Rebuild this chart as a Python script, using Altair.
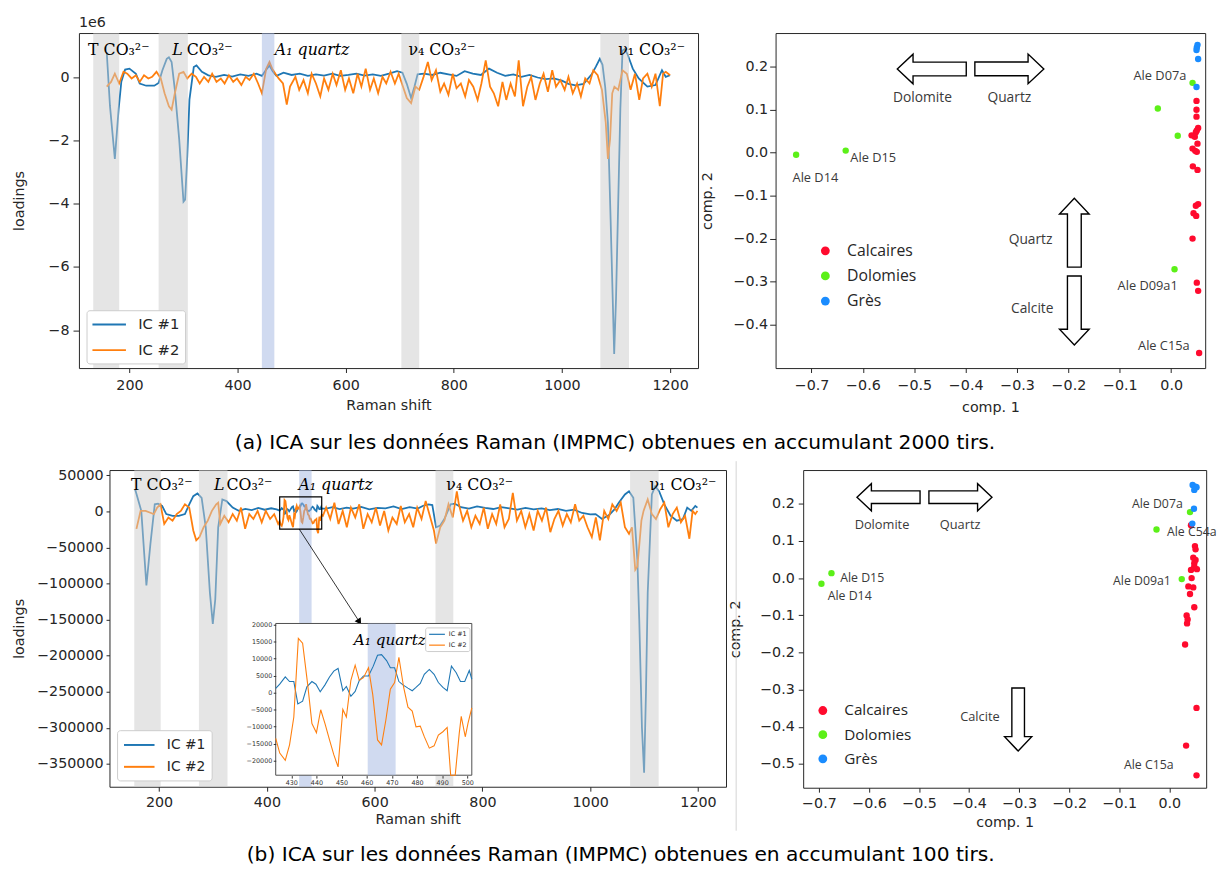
import altair as alt
import pandas as pd

BLUE, ORANGE = "#1f77b4", "#ff7f0e"
INK = "#262626"
SANS = "DejaVu Sans"
SERIF = "DejaVu Serif"
CALI = "Open Sans"

# ============ (a) left : ICA loadings, 2000 shots (unit 1e6) ============
a_ic1 = [(158, 0.80), (164, -0.9), (173, -2.58), (180, -1.0), (185, -0.13), (192, 0.25), (200, 0.28),
         (212, 0.12), (219, -0.19), (231, -0.26), (246, -0.26), (254, -0.17), (261, 0.23), (269, 0.59),
         (273, 0.64), (278, 0.49), (284, -0.39), (292, -1.95), (300, -3.93), (303, -3.87), (307, -2.47),
         (311, -0.7), (319, 0.33), (324, 0.38), (334, 0.18), (346, 0.07), (360, 0.02), (375, 0.08),
         (390, 0.03), (405, 0.1), (420, 0.05), (435, 0.12), (445, 0.05), (453, 0.25), (459, 0.38),
         (465, 0.2), (472, 0.05), (485, 0.15), (500, 0.08), (515, 0.12), (530, 0.05), (545, 0.1),
         (560, 0.06), (575, 0.12), (590, 0.05), (605, 0.08), (620, 0.12), (635, 0.06), (650, 0.1),
         (665, 0.05), (680, 0.12), (695, 0.2), (705, 0.15), (713, -0.2), (721, -0.65), (727, -0.3),
         (733, 0.1), (745, 0.12), (760, 0.08), (775, 0.15), (790, 0.1), (805, 0.05), (820, 0.2),
         (835, 0.12), (850, 0.08), (865, 0.28), (880, 0.15), (895, 0.05), (910, 0.1), (925, 0.02),
         (940, 0.08), (955, 0.0), (970, -0.05), (985, -0.03), (1000, -0.1), (1012, -0.2), (1025, -0.25),
         (1040, -0.2), (1055, 0.1), (1063, 0.35), (1070, 0.59), (1075, 0.4), (1080, -0.3), (1085, -1.43),
         (1090, -4.5), (1096.6, -8.75), (1100, -7.0), (1104, -4.0), (1108, -1.0), (1112, 0.85),
         (1116, 0.9), (1121, 0.75), (1131, 0.28), (1142, -0.03), (1158, -0.29), (1173, -0.24),
         (1185, 0.23), (1192, 0.02), (1200, 0.07)]
a_ic2 = [(158, -0.29), (166, -0.14), (173, 0.12), (181, -0.19), (189, 0.18), (196, 0.12), (204, -0.03),
         (212, 0.07), (219, -0.14), (227, 0.07), (235, -0.03), (242, 0.02), (250, 0.18), (258, -0.03),
         (265, -0.5), (273, -0.91), (278, -1.02), (284, -0.5), (292, 0.12), (300, 0.18), (307, -0.03),
         (315, 0.12), (323, 0.02), (330, -0.19), (338, 0.02), (346, -0.14), (353, 0.12), (361, -0.14),
         (369, -0.03), (376, -0.19), (384, 0.07), (392, -0.14), (399, -0.03), (407, -0.24), (415, 0.02),
         (422, -0.08), (430, 0.12), (438, -0.19), (445, -0.5), (453, 0.28), (459, 0.49), (464, 0.28),
         (470, 0.12), (476, -0.03), (484, -0.19), (491, -0.86), (497, -0.29), (507, 0.02), (514, -0.39),
         (522, -0.08), (530, -0.5), (537, 0.12), (545, -0.19), (553, -0.6), (560, -0.03), (568, -0.39),
         (576, 0.12), (583, -0.24), (591, 0.23), (599, -0.39), (606, -0.03), (614, -0.5), (622, 0.12),
         (629, -0.29), (637, 0.28), (645, -0.39), (652, -0.03), (660, -0.5), (668, 0.02), (675, -0.19),
         (683, 0.18), (691, -0.19), (698, 0.12), (706, -0.29), (713, -0.65), (721, -0.81), (729, -0.29),
         (736, -0.39), (744, 0.02), (752, 0.49), (759, -0.08), (767, 0.23), (775, -0.45), (782, -0.19),
         (790, -0.55), (798, 0.12), (805, -0.34), (813, -0.19), (821, -0.6), (828, -0.08), (836, -0.29),
         (844, -0.71), (851, -0.19), (859, 0.54), (867, -0.29), (874, -0.5), (882, -0.91), (890, -0.14),
         (897, -0.71), (905, -0.19), (913, -0.6), (920, 0.54), (928, -0.91), (936, -0.29), (943, 0.02),
         (951, -0.71), (959, -0.19), (966, 0.12), (974, -0.45), (982, 0.23), (989, -0.29), (997, -0.08),
         (1005, -0.39), (1012, 0.02), (1020, -0.5), (1028, -0.19), (1035, -0.6), (1043, -0.03),
         (1051, -0.19), (1058, 0.23), (1066, 0.07), (1074, -0.39), (1081, -1.43), (1085, -2.58),
         (1089, -1.95), (1093, -0.5), (1097, -0.29), (1104, -0.39), (1112, 0.23), (1120, 0.12),
         (1127, -0.39), (1135, 0.12), (1143, -0.71), (1150, -0.03), (1158, 0.12), (1166, -0.29),
         (1173, 0.12), (1181, -0.91), (1187, 0.12), (1192, 0.18), (1200, 0.07)]
a_band_lo = [133, 254, 445, 703, 1071]
a_band_hi = [181, 308, 468, 736, 1124]
a_band_kind = ["gray", "gray", "quartz", "gray", "gray"]
a_lab_up = ["T CO₃²⁻", "CO₃²⁻", "ν₄ CO₃²⁻", "ν₁ CO₃²⁻"]
a_lab_up_x = [123.5, 306, 716, 1104]
a_lab_it = ["L", "A₁ quartz"]
a_lab_it_x = [279, 469]
a_lab_y = 0.86

# ============ (a) right : scatter comp.1 / comp.2 ============
a_calc_x = [0.0493, 0.0493, 0.0493, 0.0525, 0.0499, 0.048, 0.0397, 0.046, 0.0512, 0.0416, 0.0468,
            0.0499, 0.0422, 0.0512, 0.0525, 0.048, 0.0435, 0.0487, 0.0416, 0.0499, 0.0525, 0.0544]
a_calc_y = [0.1206, 0.1, 0.0839, 0.0578, 0.0518, 0.0479, 0.0404, 0.0372, 0.0211, 0.0096, 0.0044,
            0.0021, -0.0317, -0.04, -0.1195, -0.1234, -0.1408, -0.147, -0.1998, -0.3023, -0.3213, -0.4658]
a_dolo_x = [0.0416, -0.026, 0.0128, -0.730, -0.6335, 0.0065]
a_dolo_y = [0.1626, 0.103, 0.0394, -0.0048, 0.005, -0.271]
a_gres_x = [0.0513, 0.0499, 0.0493, 0.0525, 0.0493]
a_gres_y = [0.251, 0.245, 0.239, 0.218, 0.153]
a_arrow_x = [-0.466, -0.315, -0.1885, -0.1885]
a_arrow_y = [0.1947, 0.195, -0.186, -0.367]
a_arrow_angle = [180, 0, 270, 90]
a_txt = ["Dolomite", "Quartz", "Quartz", "Calcite", "Ale D07a", "Ale D15", "Ale D14", "Ale D09a1", "Ale C15a"]
a_txt_x = [-0.484, -0.315, -0.231, -0.229, 0.0296, -0.6245, -0.737, 0.0128, 0.036]
a_txt_y = [0.127, 0.127, -0.2037, -0.3626, 0.178, -0.0117, -0.058, -0.31, -0.45]
a_txt_align = ["center", "center", "right", "right", "right", "left", "left", "right", "right"]
a_txt_size = [14, 14, 14, 14, 13, 13, 13, 13, 13]

# ============ (b) left : ICA loadings, 100 shots ============
b_ic1 = [(155.7, 30400), (167, 900), (176.5, -102600), (184, -44500), (192, 10000), (198, 10900),
         (205.7, 7700), (213.4, -3600), (225, -5900), (236.5, -5900), (248, -3600), (256, 10000),
         (263.5, 21300), (271.2, 25000), (279, 19000), (286.6, -21800), (294.3, -112600), (299.7, -155800),
         (304.3, -121700), (309.7, -21800), (317.4, 16800), (325, 14500), (336.6, 5400), (348, 900),
         (360, 3500), (372, 2000), (384, 5000), (396, 2500), (408, 4500), (418, 3000),
         (510, 4000), (522, 6000), (535, 3500), (548, 5500), (560, 4000), (575, 6500), (590, 3000),
         (605, 5000), (620, 4500), (635, 7000), (650, 3500), (665, 6000), (680, 4000), (690, 8000),
         (700, 10000), (707, 9000), (714, -21800), (721.7, -19500), (729.4, -10400), (741, 10000),
         (748.6, 11000), (760, 6000), (775, 4000), (790, 7000), (805, 5000), (820, 3500), (835, 6000),
         (850, 4500), (865, 2500), (880, 5000), (895, 3000), (910, 4500), (925, 2000), (940, 3500),
         (955, 1000), (970, 2500), (985, -2000), (1000, -4000), (1010, -3500), (1022, -10400),
         (1035, -5000), (1045, 3000), (1053, 12300), (1064.4, 23600), (1072, 28000), (1080, 19000),
         (1087.5, -67000), (1091, -150000), (1096, -300000), (1100, -362000), (1103.5, -250000),
         (1106.7, -112600), (1114.4, 23600), (1120.6, 35000), (1128, 28000), (1137.5, 10000),
         (1149, -5900), (1160.7, -12700), (1172, -10400), (1180, 5400), (1187.6, 900), (1195, 7700),
         (1199, 5400)]
b_ic2 = [(158, -24000), (165.7, 900), (175, 900), (182.6, -1400), (190.3, -3600), (196.5, 5400),
         (202.6, 10000), (209.6, -17300), (217.3, -8200), (225, -12700), (232.7, -3600), (240.4, 900),
         (248, 10000), (256, 5400), (263.5, -26300), (269, -40000), (275, -35400), (282.7, -21800),
         (290.4, -12700), (298, 900), (306, 10000), (309.7, 12300), (313.5, -17300), (321, -5900),
         (329, -15000), (336.6, -3600), (344.3, -12700), (352, 5400), (359.7, -24000), (367.4, -3600),
         (375, -10400), (382.8, 900), (390.5, -15000), (398, 900), (406, -10400), (413.6, -3600),
         (421, -17300),
         (504, -5900), (510, 5400), (517.6, -10400), (525.3, 12300), (533, -17300), (540.7, 900),
         (548.4, -21800), (556, 5400), (564, -8200), (571.5, 10000), (579, -24000), (587, -3600),
         (594.6, -15000), (602.3, 5400), (610, -19500), (617.7, 900), (625.4, -26300), (633, -8200),
         (641, -17300), (648.5, 7700), (656, -15000), (664, -3600), (671.6, -21800), (679, 5400),
         (687, -10400), (694.7, 14500), (702.4, -5900), (710, -26300), (714, -44500), (721.7, -21800),
         (729.4, -12700), (737, 10000), (745, -8200), (752.5, 28000), (756.3, 10000), (764, -12700),
         (771.7, 900), (779.4, -21800), (787, -5900), (795, -17300), (802.5, 5400), (810, -24000),
         (818, -3600), (825.6, -17300), (833, 10000), (841, -21800), (849, -10400), (856.4, 25900),
         (864, -12700), (872, 900), (879.6, -21800), (887, -3600), (895, -26300), (902.6, 900),
         (910.4, -12700), (918, 5400), (926, -28600), (933.5, -10400), (941, 900), (949, -19500),
         (956.6, -3600), (964, -15000), (972, 10000), (979.7, -12700), (987.4, -5900), (995, -21800),
         (1003, -35400), (1010.5, -8200), (1018, -40000), (1026, 900), (1033.6, -10400), (1041, 10000),
         (1049, 900), (1056.7, 12300), (1064.4, -21800), (1072, -30900), (1077.5, -21800),
         (1083.6, -80800), (1087.5, -76300), (1091.3, -44500), (1095, -12700), (1099, 900),
         (1106.7, 16800), (1114.4, -3600), (1122, -10400), (1130, 3200), (1137.5, 12300),
         (1145, -21800), (1153, -3600), (1160.7, 5400), (1168.3, -15000), (1176, -5900), (1184, -37700),
         (1190, 900), (1195, -3600), (1199, 900)]
# zoomed part (also drawn in the inset)
b_zoom_ic1 = [(423.8, 1200), (425.4, 2450), (427.6, 4580), (429.3, 3230), (431.0, 3230), (432.6, -3330),
              (434.5, -2560), (436.2, 1680), (438.2, 3230), (439.8, 2450), (441.5, 240), (443.4, 2260),
              (445.2, 4580), (446.9, 6310), (448.6, 7080), (450.5, 530), (451.9, 1780), (453.7, -1110),
              (455.4, 330), (457.0, 3420), (458.7, 4870), (460.7, 4870), (462.6, 7760), (464.3, 10940),
              (465.9, 11130), (467.9, 9400), (469.4, 7280), (471.1, 7280), (472.8, 3230), (474.4, 2260),
              (476.4, 1300), (478.1, 530), (479.6, 1490), (481.3, 2650), (482.9, 5350), (484.9, 6790),
              (486.8, 5350), (488.5, 2940), (490.3, 1490), (492.0, 530), (493.7, 7760), (495.6, 5830),
              (497.3, 3230), (499.0, 3230), (500.8, 6500), (501.8, 3900)]
b_zoom_ic2 = [(423.8, -13450), (425.4, -17790), (427.6, -19910), (429.3, -15380), (431.0, -7180),
              (432.8, 15950), (434.5, 14500), (436.5, 2460), (438.2, -9110), (440.0, -11810),
              (441.7, -5060), (443.4, -9110), (445.2, -13930), (446.9, -18270), (448.6, -21840),
              (450.5, -4970), (451.9, -7180), (453.7, 3610), (455.4, 8040), (457.0, 3610), (458.7, 4380),
              (460.7, 7270), (462.4, -630), (464.3, -13930), (465.9, -15380), (467.6, -8150),
              (469.4, 1010), (471.1, 2940), (472.8, 10360), (474.7, 1490), (476.4, -4290), (478.1, -5450),
              (479.6, -10080), (481.3, -9880), (482.9, -12970), (484.9, -16340), (486.8, -15670),
              (488.5, -12490), (490.3, -11520), (492.0, -10270), (493.4, -26000), (495.2, -30000),
              (496.8, -12000), (497.6, -7000), (499.2, -13000), (500.3, -9000), (501.8, -4500)]
b_band_lo = [154, 274, 460, 713, 1074]
b_band_hi = [203, 327, 483, 746, 1127]
b_band_kind = ["gray", "gray", "quartz", "gray", "gray"]
b_lab_up = ["T CO₃²⁻", "CO₃²⁻", "ν₄ CO₃²⁻", "ν₁ CO₃²⁻"]
b_lab_up_x = [148, 325, 733, 1110]
b_lab_it = ["L", "A₁ quartz"]
b_lab_it_x = [302, 458.5]
b_lab_y = 36000
b_inset_box = [423.8, 501.8, -24300, 20300]          # x0, x1, y0, y1 of the zoom window
b_inset_band = [460.4, 471.5]
b_zoom_arrow = [460, -24300, 571.7, -152900]        # x0, y0, x1, y1

# ============ (b) right : scatter ============
b_calc_x = [0.0433, 0.0512, 0.0524, 0.0478, 0.0524, 0.0498, 0.0433, 0.0551, 0.0498, 0.0445, 0.038,
            0.0478, 0.0413, 0.0498, 0.0346, 0.0366, 0.0354, 0.0315, 0.0543, 0.0335, 0.0543]
b_calc_y = [0.1421, 0.0861, 0.0773, 0.0549, 0.0488, 0.04, 0.0221, 0.024, 0.0309, 0.0, -0.0224,
            -0.0251, -0.0427, -0.0784, -0.1005, -0.1112, -0.1219, -0.1787, -0.3493, -0.4507, -0.5307]
b_dolo_x = [0.0413, -0.0256, 0.0248, -0.675, -0.695]
b_dolo_y = [0.1776, 0.1307, -0.0027, 0.0133, -0.0152]
b_gres_x = [0.0465, 0.0524, 0.0498, 0.0543, 0.0492, 0.0459]
b_gres_y = [0.2507, 0.2461, 0.2373, 0.2443, 0.1867, 0.1467]
b_arrow_x = [-0.561, -0.4173, -0.302]
b_arrow_y = [0.2176, 0.2176, -0.3805]
b_arrow_angle = [180, 0, 90]
b_txt = ["Dolomite", "Quartz", "Calcite", "Ale D07a", "Ale C54a", "Ale D15", "Ale D14", "Ale D09a1", "Ale C15a"]
b_txt_x = [-0.574, -0.418, -0.339, 0.0268, -0.0047, -0.6575, -0.6825, 0.003, 0.0085]
b_txt_y = [0.144, 0.144, -0.375, 0.2, 0.1227, 0.0, -0.049, -0.009, -0.504]
b_txt_align = ["center", "center", "right", "right", "left", "left", "left", "right", "right"]
b_txt_size = [13, 13, 13, 12.5, 12.5, 12.5, 12.5, 12.5, 12.5]

GROUPS = ["Calcaires", "Dolomies", "Grès"]
GROUP_COLORS = ["#ff0a2e", "#5cf018", "#1a8cff"]
SERIES = ["IC #1", "IC #2"]
ARROW = "M1,0L0.543,-0.43L0.543,-0.2L-1,-0.2L-1,0.2L0.543,0.2L0.543,0.43Z"
WIDE_LINE = "M-2,0L2,0"

cap_a = "(a) ICA sur les données Raman (IMPMC) obtenues en accumulant 2000 tirs."
cap_b = "(b) ICA sur les données Raman (IMPMC) obtenues en accumulant 100 tirs."


# ----------------------------------------------------------------- helpers
def x_axis(title, values, fmt, label_pad, title_pad):
    return alt.Axis(title=title, values=values, format=fmt, grid=False, domain=False,
                    tickSize=4.5, tickColor=INK, labelPadding=label_pad, labelFont=SANS,
                    labelFontSize=14.5, labelColor=INK,
                    titleFont=SANS, titleFontSize=14.5, titleFontWeight="normal", titleColor=INK,
                    titlePadding=title_pad)


def y_axis(title, values, fmt, extent, title_pad, tick, label_pad):
    return alt.Axis(title=title, values=values, format=fmt, grid=False, domain=False,
                    tickSize=tick, tickColor=INK, labelPadding=label_pad, labelFont=SANS,
                    labelFontSize=14.5, labelColor=INK,
                    titleFont=SANS, titleFontSize=14.5, titleFontWeight="normal", titleColor=INK,
                    titlePadding=title_pad, minExtent=extent, maxExtent=extent)


def line_df(ic1, ic2):
    rows = [{"shift": x, "val": y, "series": "IC #1"} for x, y in sorted(ic1)]
    rows += [{"shift": x, "val": y, "series": "IC #2"} for x, y in sorted(ic2)]
    return pd.DataFrame(rows)


BAND_SCALE = alt.Scale(domain=["gray", "quartz"], range=["#cbcbcb", "#a1b5e1"])


def spectrum_layers(ic1, ic2, lo, hi, kind, up_t, up_x, it_t, it_x, lab_y, xs, ys,
                    yvals, yext, ytp, ytick, ypad, xlp, xtp, legend):
    xax = x_axis("Raman shift", [200, 400, 600, 800, 1000, 1200], "d", xlp, xtp)
    yax = y_axis("loadings", yvals, "d", yext, ytp, ytick, ypad)
    lines = alt.Chart(line_df(ic1, ic2)).mark_line(strokeWidth=1.8).encode(
        x=alt.X("shift:Q", scale=xs, axis=xax),
        y=alt.Y("val:Q", scale=ys, axis=yax),
        color=alt.Color("series:N", scale=alt.Scale(domain=SERIES, range=[BLUE, ORANGE]), legend=legend),
    )
    bands = alt.Chart(pd.DataFrame({"lo": lo, "hi": hi, "kind": kind})).mark_rect(opacity=0.5).encode(
        x=alt.X("lo:Q", scale=xs, axis=xax), x2="hi:Q",
        fill=alt.Fill("kind:N", scale=BAND_SCALE, legend=None),
    )
    up = alt.Chart(pd.DataFrame({"t": up_t, "x": up_x, "y": [lab_y] * len(up_x)})).mark_text(
        align="left", baseline="middle", font=SERIF, fontSize=16, color="black").encode(
        x=alt.X("x:Q", scale=xs, axis=xax), y=alt.Y("y:Q", scale=ys, axis=yax), text="t:N")
    it = alt.Chart(pd.DataFrame({"t": it_t, "x": it_x, "y": [lab_y] * len(it_x)})).mark_text(
        align="left", baseline="middle", font=SERIF, fontSize=16, fontStyle="italic", color="black").encode(
        x=alt.X("x:Q", scale=xs, axis=xax), y=alt.Y("y:Q", scale=ys, axis=yax), text="t:N")
    return [lines, bands, up, it], xax, yax


def line_legend(lx, ly, fs, rowpad, symlen, pad, symoff, laboff):
    return alt.Legend(orient="none", legendX=lx, legendY=ly, title=None, symbolType=WIDE_LINE,
                      symbolStrokeWidth=2, symbolSize=(symlen / 2) ** 2, symbolOffset=symoff,
                      labelFont=SANS, labelFontSize=fs,
                      labelColor=INK, fillColor="white", strokeColor="#cccccc", padding=pad,
                      cornerRadius=3, rowPadding=rowpad, labelOffset=laboff)


def scatter_panel(cx, cy, dx, dy, gx, gy, ax, ay, aang, asize, tt, tx, ty, talign, tsize,
                  xdom, ydom, yvals, w, h, yext, ytp, ytick, ypad, xlp, xtp, legend, extra=()):
    xs = alt.Scale(domain=xdom, nice=False, zero=False)
    ys = alt.Scale(domain=ydom, nice=False, zero=False)
    xax = x_axis("comp. 1", [-0.7, -0.6, -0.5, -0.4, -0.3, -0.2, -0.1, 0.0], ".1f", xlp, xtp)
    yax = y_axis("comp. 2", yvals, ".1f", yext, ytp, ytick, ypad)
    pts = pd.DataFrame({"c1": cx + dx + gx, "c2": cy + dy + gy,
                        "group": ["Calcaires"] * len(cx) + ["Dolomies"] * len(dx) + ["Grès"] * len(gx)})
    points = alt.Chart(pts).mark_circle(size=42, opacity=1).encode(
        x=alt.X("c1:Q", scale=xs, axis=xax),
        y=alt.Y("c2:Q", scale=ys, axis=yax),
        color=alt.Color("group:N", scale=alt.Scale(domain=GROUPS, range=GROUP_COLORS), legend=legend),
    )
    arrows = alt.Chart(pd.DataFrame({"x": ax, "y": ay, "a": aang})).mark_point(
        shape=ARROW, filled=True, fill="white", stroke="black", strokeWidth=1.4, size=asize,
        opacity=1, fillOpacity=1, strokeOpacity=1).encode(
        x=alt.X("x:Q", scale=xs, axis=xax), y=alt.Y("y:Q", scale=ys, axis=yax),
        angle=alt.Angle("a:Q", scale=None))
    tdf = pd.DataFrame({"t": tt, "x": tx, "y": ty, "al": talign, "fs": tsize})
    texts = []
    for al in ["left", "center", "right"]:
        texts.append(alt.Chart(tdf).transform_filter(alt.datum.al == al).mark_text(
            align=al, baseline="middle", font=CALI, color="#3a3a3a").encode(
            x=alt.X("x:Q", scale=xs, axis=xax), y=alt.Y("y:Q", scale=ys, axis=yax),
            text="t:N", size=alt.Size("fs:Q", scale=None)))
    return alt.layer(points, arrows, *texts, *extra).properties(width=w, height=h)


def scatter_legend(lx, ly, fs, rowpad, laboff):
    return alt.Legend(orient="none", legendX=lx, legendY=ly, title=None, symbolType="circle",
                      symbolSize=80, symbolStrokeWidth=0, labelFont=CALI, labelFontSize=fs,
                      labelColor=INK, padding=0, rowPadding=rowpad, labelOffset=laboff)


def spacer():
    # invisible 1-px column: lets the two rows start their first panel at different offsets
    return alt.Chart(pd.DataFrame({"v": [0]})).mark_point(size=0, opacity=0).encode(
        x=alt.value(0), y=alt.value(0)).properties(
        width=1, height=1, view=alt.ViewBackground(stroke="transparent"))


# ----------------------------------------------------------------- (a) left
a_xs = alt.Scale(domain=[106.6, 1251.7], nice=False, zero=False)
a_ys = alt.Scale(domain=[-9.198, 1.407], nice=False, zero=False)
tl_layers, _, _ = spectrum_layers(
    a_ic1, a_ic2, a_band_lo, a_band_hi, a_band_kind, a_lab_up, a_lab_up_x, a_lab_it, a_lab_it_x, a_lab_y,
    a_xs, a_ys, [-8, -6, -4, -2, 0], 30, 23.2, 6, 4, 6.5, 7,
    line_legend(7.7, 281.3, 15, 8, 34, 5, 8.5, 20))
tl = alt.layer(*tl_layers).properties(
    width=628.3, height=340,
    title=alt.TitleParams("1e6", anchor="start", frame="group", font=SANS, fontSize=14.5,
                          fontWeight="normal", color=INK, offset=3))

# ----------------------------------------------------------------- (a) right
tr = scatter_panel(a_calc_x, a_calc_y, a_dolo_x, a_dolo_y, a_gres_x, a_gres_y,
                   a_arrow_x, a_arrow_y, a_arrow_angle, 4900,
                   a_txt, a_txt_x, a_txt_y, a_txt_align, a_txt_size,
                   [-0.77, 0.0662], [-0.501, 0.2784], [-0.4, -0.3, -0.2, -0.1, 0.0, 0.1, 0.2],
                   436, 340, 44, 18.5, 6, 2, 6, 9,
                   scatter_legend(42.5, 213, 16, 9.5, 14))

# ----------------------------------------------------------------- (b) left
b_xs = alt.Scale(domain=[108, 1252], nice=False, zero=False)
b_ys = alt.Scale(domain=[-381600, 57500], nice=False, zero=False)
b_main_layers, b_xax, b_yax = spectrum_layers(
    b_ic1 + b_zoom_ic1, b_ic2 + b_zoom_ic2, b_band_lo, b_band_hi, b_band_kind, b_lab_up, b_lab_up_x,
    b_lab_it, b_lab_it_x, b_lab_y, b_xs, b_ys,
    [-350000, -300000, -250000, -200000, -150000, -100000, -50000, 0, 50000], 78, 5.8, 3.5, 3, 5, 3,
    line_legend(7.7, 264, 14, 6.2, 31, 6, 7.5, 19))
box_df = pd.DataFrame({"x0": [b_inset_box[0]], "x1": [b_inset_box[1]],
                       "y0": [b_inset_box[2]], "y1": [b_inset_box[3]]})
zoom_rect = alt.Chart(box_df).mark_rect(fillOpacity=0, stroke="black", strokeWidth=1.2).encode(
    x=alt.X("x0:Q", scale=b_xs, axis=b_xax), x2="x1:Q",
    y=alt.Y("y0:Q", scale=b_ys, axis=b_yax), y2="y1:Q")
arr_df = pd.DataFrame({"x0": [b_zoom_arrow[0]], "y0": [b_zoom_arrow[1]],
                       "x1": [b_zoom_arrow[2]], "y1": [b_zoom_arrow[3]]})
zoom_line = alt.Chart(arr_df).mark_rule(color="black", strokeWidth=0.8).encode(
    x=alt.X("x0:Q", scale=b_xs, axis=b_xax), x2="x1:Q",
    y=alt.Y("y0:Q", scale=b_ys, axis=b_yax), y2="y1:Q")
zoom_head = alt.Chart(arr_df).mark_point(shape="triangle-down", filled=True, color="black", size=55,
                                         opacity=1, angle=327).encode(
    x=alt.X("x1:Q", scale=b_xs, axis=b_xax), y=alt.Y("y1:Q", scale=b_ys, axis=b_yax))
b_main = alt.layer(*b_main_layers, zoom_rect, zoom_line, zoom_head)

# inset (own scales mapped to a pixel window inside the panel)
in_xs = alt.Scale(domain=b_inset_box[:2], range=[168.7, 367.7], nice=False, zero=False)
in_ys = alt.Scale(domain=b_inset_box[2:], range=[309.7, 155.7], nice=False, zero=False, clamp=True)
in_xax = alt.Axis(orient="bottom", offset=-11.3, values=[430, 440, 450, 460, 470, 480, 490, 500],
                  format="d", title="", domain=False, grid=False, tickSize=2.5, tickColor="#333",
                  labelFont=SANS, labelFontSize=6.5, labelColor="#333", labelPadding=1.5, zindex=1)
in_yax = alt.Axis(orient="left", offset=-168.7,
                  values=[-20000, -15000, -10000, -5000, 0, 5000, 10000, 15000, 20000],
                  format="d", title="", domain=False, grid=False, tickSize=2.5, tickColor="#333",
                  labelFont=SANS, labelFontSize=6.5, labelColor="#333", labelPadding=1.5, zindex=1)
in_frame = alt.Chart(box_df).mark_rect(fill="white", stroke="#4d4d4d", strokeWidth=1).encode(
    x=alt.X("x0:Q", scale=in_xs, axis=in_xax), x2="x1:Q",
    y=alt.Y("y0:Q", scale=in_ys, axis=in_yax), y2="y1:Q")
in_band = alt.Chart(pd.DataFrame({"lo": [b_inset_band[0]], "hi": [b_inset_band[1]], "kind": ["quartz"],
                                  "y0": [b_inset_box[2]], "y1": [b_inset_box[3]]})).mark_rect(opacity=0.5).encode(
    x=alt.X("lo:Q", scale=in_xs, axis=in_xax), x2="hi:Q",
    y=alt.Y("y0:Q", scale=in_ys, axis=in_yax), y2="y1:Q",
    fill=alt.Fill("kind:N", scale=BAND_SCALE, legend=None))
in_lines = alt.Chart(line_df(b_zoom_ic1, b_zoom_ic2)).mark_line(strokeWidth=1.1).encode(
    x=alt.X("shift:Q", scale=in_xs, axis=in_xax),
    y=alt.Y("val:Q", scale=in_ys, axis=in_yax),
    color=alt.Color("series:N", scale=alt.Scale(domain=SERIES, range=[BLUE, ORANGE]),
                    legend=alt.Legend(orient="none", legendX=320.4, legendY=159.7, title=None,
                                      symbolType=WIDE_LINE, symbolStrokeWidth=1.2, symbolSize=64,
                                      symbolOffset=5, labelFont=SANS, labelFontSize=6.5, labelColor=INK,
                                      fillColor="white", strokeColor="#cccccc", padding=2,
                                      cornerRadius=2, rowPadding=2, labelOffset=7)))
in_label = alt.Chart(pd.DataFrame({"t": ["A₁ quartz"], "x": [454.8], "y": [15440]})).mark_text(
    align="left", baseline="middle", font=SERIF, fontSize=15.5, fontStyle="italic", color="black").encode(
    x=alt.X("x:Q", scale=in_xs, axis=in_xax), y=alt.Y("y:Q", scale=in_ys, axis=in_yax), text="t:N")
b_inset = alt.layer(in_frame, in_band, in_lines, in_label)

bl = alt.layer(b_main, b_inset).resolve_scale(
    x="independent", y="independent", color="independent").properties(width=625.7, height=321.4)

# ----------------------------------------------------------------- (b) right
# thin light separator between the two bottom figures
separator = alt.Chart(pd.DataFrame({"v": [0]})).mark_rule(color="#d4d4d4", strokeWidth=1).encode(
    x=alt.value(-68), y=alt.value(-9), y2=alt.value(366))
br = scatter_panel(b_calc_x, b_calc_y, b_dolo_x, b_dolo_y, b_gres_x, b_gres_y,
                   b_arrow_x, b_arrow_y, b_arrow_angle, 4096,
                   b_txt, b_txt_x, b_txt_y, b_txt_align, b_txt_size,
                   [-0.7315, 0.0736], [-0.564, 0.2907], [-0.5, -0.4, -0.3, -0.2, -0.1, 0.0, 0.1, 0.2],
                   409, 322.4, 45, 16.5, 5, 4, 5, 5.6,
                   scatter_legend(12.2, 236.3, 15.5, 7.5, 14), extra=(separator,))


def caption(text, offset):
    return alt.TitleParams(text, orient="bottom", anchor="middle", font=SANS, fontSize=20.5,
                           fontWeight="normal", color="black", offset=offset, dx=8)


row1 = alt.concat(spacer(), tl, tr, columns=3, spacing=0, align="none",
                  title=caption(cap_a, 19)).resolve_scale(color="independent", fill="independent")
row2 = alt.concat(spacer(), bl, br, columns=3, spacing=0, align="none",
                  title=caption(cap_b, 14)).resolve_scale(color="independent", fill="independent")

chart = alt.concat(row1, row2, columns=1, spacing=6.5, align="none").resolve_scale(
    color="independent", fill="independent").properties(padding=0).configure_view(
    stroke=INK, strokeWidth=1)

chart.save("out.html", embed_options={"renderer": "svg", "actions": False})
